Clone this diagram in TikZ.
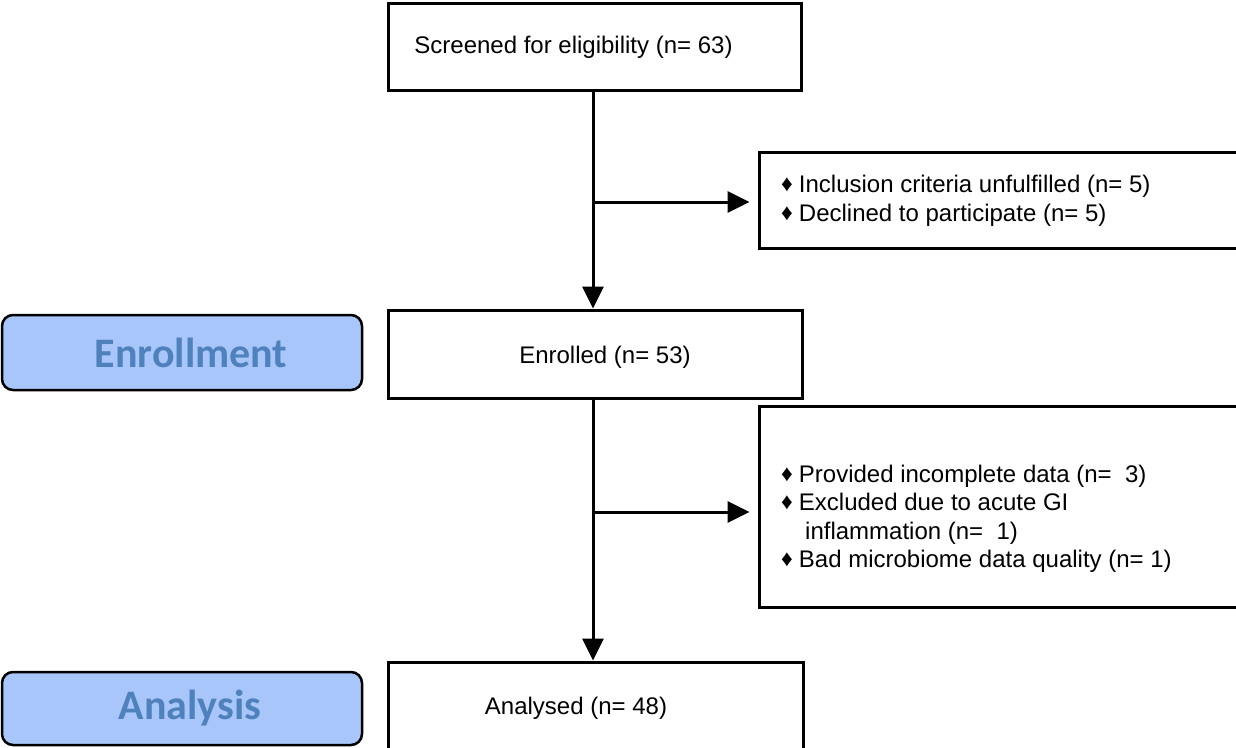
\documentclass[tikz,border=0pt]{standalone}
\usepackage{fontspec}
\setmainfont{Liberation Sans}
\newfontfamily\calib{Carlito}
\usetikzlibrary{arrows.meta}
\definecolor{phasefill}{RGB}{169,198,250}
\definecolor{phasetext}{RGB}{79,129,189}
\tikzset{
  box/.style={draw=black, line width=3pt, rectangle, inner sep=0pt},
  txt/.style={inner sep=0pt, font=\fontsize{24pt}{28.5pt}\selectfont, align=left},
  phase/.style={draw=black, line width=2.5pt, fill=phasefill, rounded corners=11pt,
    minimum width=360pt, text=phasetext, font=\calib\bfseries\fontsize{42pt}{42pt}\selectfont},
  flow/.style={line width=3pt, -{Triangle[length=22pt,width=21pt]}}
}
\newcommand{\bul}{{\fontsize{23pt}{23pt}\selectfont\raisebox{1pt}{♦}}\hspace{6pt}}
\begin{document}
\begin{tikzpicture}[x=1pt,y=-1pt]
\clip (0,0) rectangle (1236,747);
\fill[white] (0,0) rectangle (1236,747);
% main boxes
\node[box, minimum width=413pt, minimum height=87pt] (scr) at (594.5,46.5) {};
\node[box, minimum width=414pt, minimum height=88pt] (enr) at (595,354) {};
\node[box, minimum width=415pt, minimum height=88pt] (ana) at (595.5,706) {};
\node[box, minimum width=481pt, minimum height=96pt] (exa) at (999.5,200) {};
\node[box, minimum width=481pt, minimum height=201pt] (exb) at (999.5,506.5) {};
% texts
\node[txt] (scrt) at (573.5,47) {Screened for eligibility (n= 63)};
\node[txt] (enrt) at (605,357) {Enrolled (n= 53)};
\node[txt] (anat) at (576,708) {Analysed (n= 48)};
\node[txt, anchor=west] (exat) at (781,201) {\bul Inclusion criteria unfulfilled (n= 5)\\ \bul Declined to participate (n= 5)};
\node[txt, anchor=west] (exbt) at (781,519) {\bul Provided incomplete data (n=\ \ 3)\\ \bul Excluded due to acute GI\\ \hspace*{24pt}inflammation (n=\ \ 1)\\ \bul Bad microbiome data quality (n= 1)};
% phases
\node[phase, minimum height=75pt] (enrph) at (182,352.5) {\hspace*{18pt}Enrollment};
\node[phase, minimum height=73pt] (anaph) at (182,708.5) {\hspace*{16pt}Analysis};
% connectors
\coordinate (b1) at (593,202);
\coordinate (b2) at (593,512);
\draw[flow] (scr.south -| b1) -- (enr.north -| b1);
\draw[flow] (enr.south -| b2) -- (ana.north -| b2);
\draw[flow, shorten >=8pt] (b1) -- (b1 -| exa.west);
\draw[flow, shorten >=8pt] (b2) -- (b2 -| exb.west);
\end{tikzpicture}
\end{document}
